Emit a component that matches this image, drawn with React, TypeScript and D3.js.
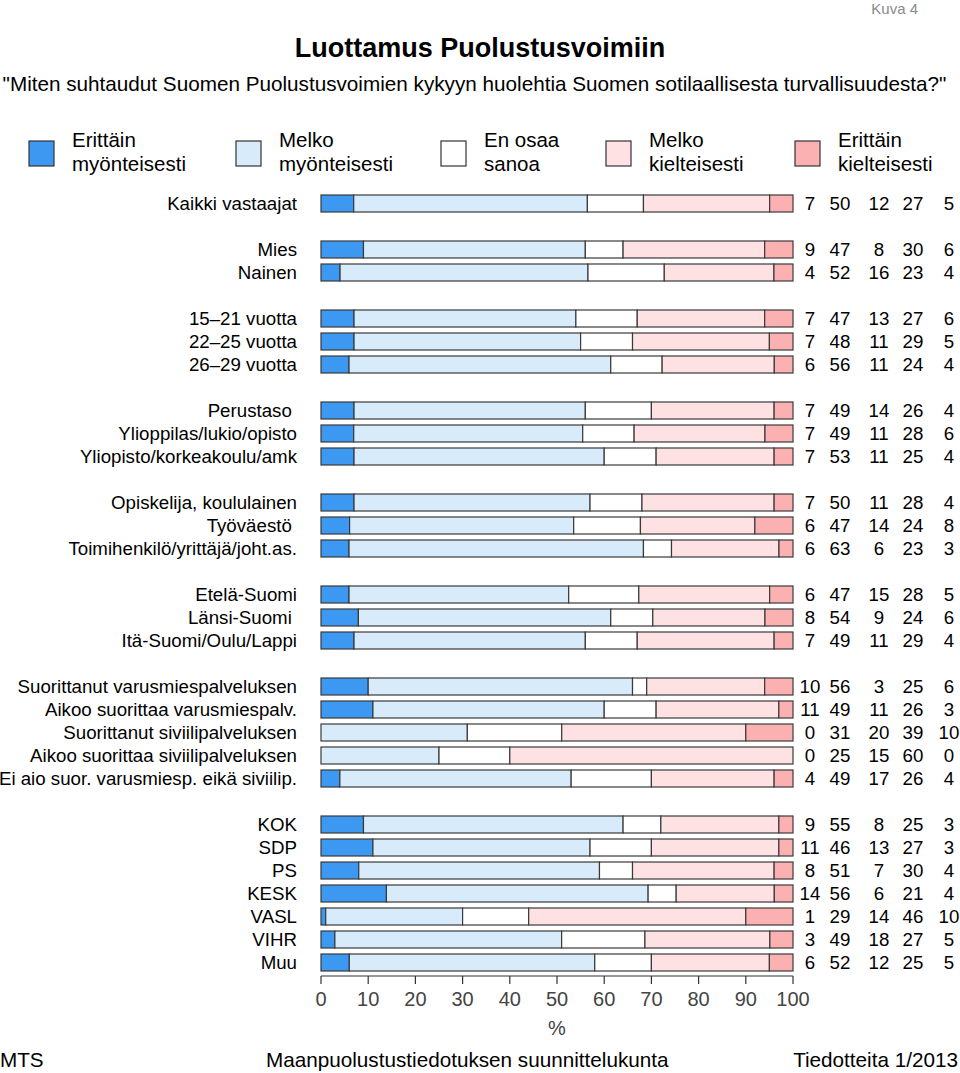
import React from "react";
import * as d3 from "d3";

const rowLabels = [
  "Kaikki vastaajat",
  "Mies", "Nainen",
  "15–21 vuotta", "22–25 vuotta", "26–29 vuotta",
  "Perustaso ", "Ylioppilas/lukio/opisto", "Yliopisto/korkeakoulu/amk",
  "Opiskelija, koululainen", "Työväestö ", "Toimihenkilö/yrittäjä/joht.as.",
  "Etelä-Suomi", "Länsi-Suomi ", "Itä-Suomi/Oulu/Lappi",
  "Suorittanut varusmiespalveluksen", "Aikoo suorittaa varusmiespalv.", "Suorittanut siviilipalveluksen", "Aikoo suorittaa siviilipalveluksen", "Ei aio suor. varusmiesp. eikä siviilip.",
  "KOK", "SDP", "PS", "KESK", "VASL", "VIHR", "Muu",
];
const rowGroup = [0, 1, 1, 2, 2, 2, 3, 3, 3, 4, 4, 4, 5, 5, 5, 6, 6, 6, 6, 6, 7, 7, 7, 7, 7, 7, 7];

const erittainMyont = [7, 9, 4, 7, 7, 6, 7, 7, 7, 7, 6, 6, 6, 8, 7, 10, 11, 0, 0, 4, 9, 11, 8, 14, 1, 3, 6];
const melkoMyont = [50, 47, 52, 47, 48, 56, 49, 49, 53, 50, 47, 63, 47, 54, 49, 56, 49, 31, 25, 49, 55, 46, 51, 56, 29, 49, 52];
const enOsaa = [12, 8, 16, 13, 11, 11, 14, 11, 11, 11, 14, 6, 15, 9, 11, 3, 11, 20, 15, 17, 8, 13, 7, 6, 14, 18, 12];
const melkoKielt = [27, 30, 23, 27, 29, 24, 26, 28, 25, 28, 24, 23, 28, 24, 29, 25, 26, 39, 60, 26, 25, 27, 30, 21, 46, 27, 25];
const erittainKielt = [5, 6, 4, 6, 5, 4, 4, 6, 4, 4, 8, 3, 5, 6, 4, 6, 3, 10, 0, 4, 3, 3, 4, 4, 10, 5, 5];

const seriesNames = [
  ["Erittäin", "myönteisesti"],
  ["Melko", "myönteisesti"],
  ["En osaa", "sanoa"],
  ["Melko", "kielteisesti"],
  ["Erittäin", "kielteisesti"],
];
const seriesColors = ["#3d98f2", "#d8ebfb", "#ffffff", "#fde1e3", "#fbb1b1"];
const axisTicks = [0, 10, 20, 30, 40, 50, 60, 70, 80, 90, 100];

const FONT = "'Liberation Sans', Arial, sans-serif";

export default function App() {
  const series = [erittainMyont, melkoMyont, enOsaa, melkoKielt, erittainKielt];
  const x = d3.scaleLinear().domain([0, 100]).range([321, 793]);
  const slots = rowLabels.map((_, i) => i + rowGroup[i]);
  const y = d3.scaleLinear().domain([0, 33]).range([203.5, 962.5]);
  const barH = 17;
  const valueCols = [810, 840, 879, 913, 949];
  const legendX = [29, 236, 441, 606, 795];

  return (
    <svg width={960} height={1073} style={{ position: "absolute", left: 0, top: 0, background: "#fff" }} fontFamily={FONT}>
      <text x={918} y={14} textAnchor="end" fontSize={15} fill="#8a8a8a">Kuva 4</text>
      <text x={480} y={57} textAnchor="middle" fontSize={27} fontWeight="bold" fill="#000">Luottamus Puolustusvoimiin</text>
      <text x={474.5} y={91} textAnchor="middle" fontSize={20.7} fill="#000">"Miten suhtaudut Suomen Puolustusvoimien kykyyn huolehtia Suomen sotilaallisesta turvallisuudesta?"</text>

      {seriesNames.map((nm, k) => (
        <g key={k}>
          <rect x={legendX[k]} y={141} width={25} height={25} fill={seriesColors[k]} stroke="#333" strokeWidth={1.2} />
          <text x={legendX[k] + 43} y={147} fontSize={20.5} fill="#000">{nm[0]}</text>
          <text x={legendX[k] + 43} y={171} fontSize={20.5} fill="#000">{nm[1]}</text>
        </g>
      ))}

      {rowLabels.map((lab, i) => {
        const cy = y(slots[i]);
        const vals = series.map((s) => s[i]);
        const total = d3.sum(vals);
        let cum = 0;
        return (
          <g key={i}>
            <text x={297} y={cy + 6.5} textAnchor="end" fontSize={18.7} fill="#000" style={{ whiteSpace: "pre" }}>{lab}</text>
            {vals.map((v, k) => {
              const x0 = x((cum / total) * 100);
              cum += v;
              const x1 = x((cum / total) * 100);
              return (
                <rect key={k} x={x0} y={cy - barH / 2} width={x1 - x0} height={barH} fill={seriesColors[k]} stroke="#3a3a3a" strokeWidth={1.2} />
              );
            })}
            {vals.map((v, k) => (
              <text key={"v" + k} x={valueCols[k]} y={cy + 6.5} textAnchor="middle" fontSize={18.7} fill="#000">{v}</text>
            ))}
          </g>
        );
      })}

      <line x1={x(0)} x2={x(100)} y1={976} y2={976} stroke="#333" strokeWidth={1.2} />
      {axisTicks.map((t) => (
        <g key={t}>
          <line x1={x(t)} x2={x(t)} y1={976} y2={984} stroke="#333" strokeWidth={1.2} />
          <text x={x(t)} y={1006} textAnchor="middle" fontSize={20} fill="#444">{t}</text>
        </g>
      ))}
      <text x={x(50)} y={1035} textAnchor="middle" fontSize={20} fill="#444">%</text>

      <text x={0} y={1067} fontSize={20.7} fill="#000">MTS</text>
      <text x={266} y={1067} fontSize={20.7} fill="#000">Maanpuolustustiedotuksen suunnittelukunta</text>
      <text x={958} y={1067} textAnchor="end" fontSize={20.7} fill="#000">Tiedotteita 1/2013</text>
    </svg>
  );
}
